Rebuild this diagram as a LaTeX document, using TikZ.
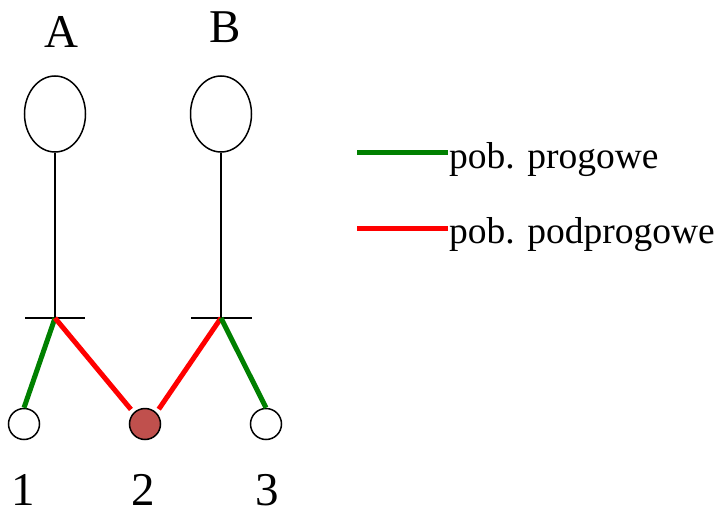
\documentclass[tikz,border=0pt]{standalone}
\usepackage{fontspec}
\setmainfont{Liberation Serif}
\usetikzlibrary{shapes.geometric}
\definecolor{progGreen}{HTML}{008000}
\definecolor{podprogRed}{HTML}{FF0000}
\definecolor{siteFill}{HTML}{C0504D}
\tikzset{
  soma/.style={draw, ellipse, line width=1.5pt, inner sep=0pt, minimum width=61pt, minimum height=76pt},
  site/.style={draw, circle, line width=1.5pt, inner sep=0pt, minimum size=31pt, fill=white},
  prog/.style={progGreen, line width=5pt},
  podprog/.style={podprogRed, line width=5pt},
  bigtext/.style={anchor=base, inner sep=0pt, font=\fontsize{47}{52}\selectfont},
  legtext/.style={anchor=base west, inner sep=1pt, font=\fontsize{37.5}{42}\selectfont}
}
\begin{document}
\begin{tikzpicture}[x=1pt,y=-1pt]
    \useasboundingbox (0,0) rectangle (718,514);
    % neurons
    \node[bigtext] (labA) at (61,47) {A};
    \node[bigtext] (labB) at (225,42) {B};
    \node[soma] (somaA) at (55,114) {};
    \node[soma] (somaB) at (221,114) {};
    \coordinate (termA) at (55,318);
    \coordinate (termB) at (221,318);
    \draw[line width=1.5pt] (somaA.south) -- (termA);
    \draw[line width=1.5pt] (somaB.south) -- (termB);
    \draw[line width=1.5pt] ([xshift=-30pt]termA) -- ([xshift=30pt]termA);
    \draw[line width=1.5pt] ([xshift=-30pt]termB) -- ([xshift=31pt]termB);
    % sites
    \node[site] (s1) at (24,424) {};
    \node[site, fill=siteFill] (s2) at (145,424) {};
    \node[site] (s3) at (266,424) {};
    \node[bigtext] (lab1) at (23,505) {1};
    \node[bigtext] (lab2) at (143,505) {2};
    \node[bigtext] (lab3) at (267,505) {3};
    % connections
    \draw[prog] (termA) -- (s1.north);
    \draw[podprog, shorten >=4pt] (termA) -- (s2.north west);
    \draw[podprog, shorten >=4pt] (termB) -- (s2.north east);
    \draw[prog] (termB) -- (s3.north);
    % legend
    \node[legtext] (legProg) at (448,168) {pob. progowe};
    \node[legtext] (legPodprog) at (448,243) {pob. podprogowe};
    \coordinate (legProgStart) at (357,152);
    \coordinate (legPodprogStart) at (357,228);
    \draw[prog] (legProgStart) -- (legProgStart -| legProg.west);
    \draw[podprog] (legPodprogStart) -- (legPodprogStart -| legPodprog.west);
\end{tikzpicture}
\end{document}
